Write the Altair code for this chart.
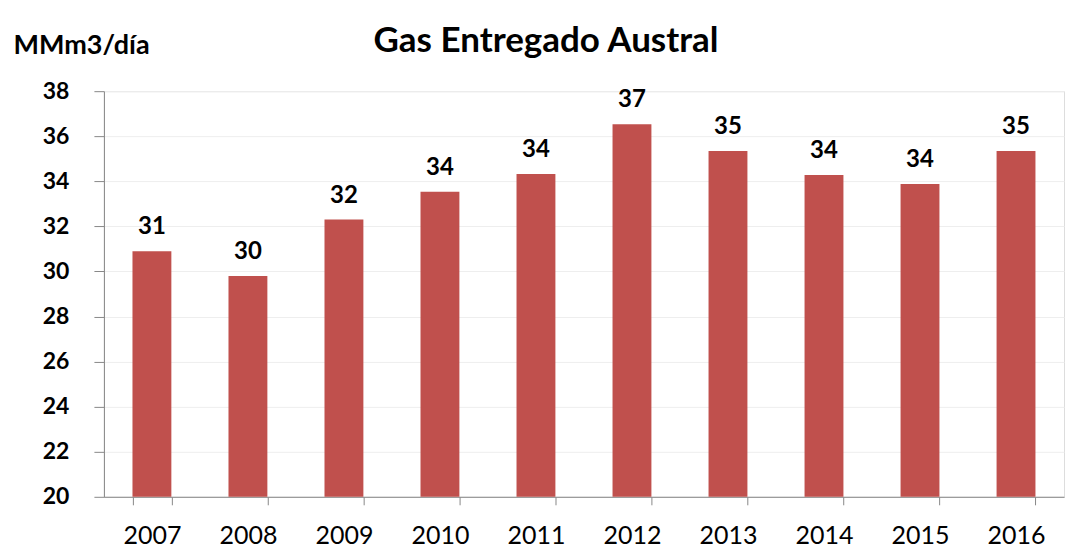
import altair as alt
import pandas as pd

years = ["2007", "2008", "2009", "2010", "2011", "2012", "2013", "2014", "2015", "2016"]
values = [30.9, 29.8, 32.3, 33.54, 34.32, 36.53, 35.34, 34.28, 33.88, 35.34]
y_ticks = [20, 22, 24, 26, 28, 30, 32, 34, 36, 38]

df = pd.DataFrame({"year": years, "value": values})

FONT = "Lato"

x_enc = alt.X(
    "year:N",
    title=None,
    scale=alt.Scale(paddingInner=0.595, paddingOuter=0.2975),
    axis=alt.Axis(
        labelAngle=0,
        tickBand="extent",
        tickSize=8,
        tickColor="#888888",
        domainColor="#888888",
        labelFont=FONT,
        labelFontSize=25,
        labelFontWeight="normal",
        labelColor="#000000",
        labelPadding=19,
        grid=False,
    ),
)

y_enc = alt.Y(
    "value:Q",
    scale=alt.Scale(domain=[20, 38], nice=False, zero=False),
    axis=alt.Axis(
        values=y_ticks,
        title="MMm3/día",
        titleAngle=0,
        titleAlign="left",
        titleBaseline="alphabetic",
        titleX=-91,
        titleY=-38,
        titleFont=FONT,
        titleFontSize=27,
        titleFontWeight="bold",
        titleColor="#000000",
        tickSize=10,
        tickColor="#888888",
        domainColor="#888888",
        labelFont=FONT,
        labelFontSize=23,
        labelFontWeight="bold",
        labelColor="#000000",
        labelPadding=25,
        grid=True,
        gridColor="#EEEEEE",
    ),
)

base = alt.Chart(df)

bars = base.mark_bar(color="#C0504D").encode(
    x=x_enc,
    y=y_enc,
    y2=alt.datum(20),
)

labels = base.mark_text(
    dy=-17,
    baseline="alphabetic",
    font=FONT,
    fontWeight="bold",
    fontSize=24,
    color="#000000",
).encode(
    x=alt.X("year:N"),
    y=alt.Y("value:Q"),
    text=alt.Text("value:Q", format=".0f"),
)

chart = (
    alt.layer(bars, labels)
    .properties(
        width=961,
        height=406,
        autosize=alt.AutoSizeParams(type="none"),
        padding={"left": 96, "top": 83, "right": 20, "bottom": 58},
        title=alt.TitleParams(
            text="Gas Entregado Austral",
            font=FONT,
            fontSize=35,
            fontWeight="bold",
            color="#000000",
            anchor="middle",
            frame="group",
            dx=-38,
            dy=56,
            baseline="alphabetic",
            offset=0,
        ),
    )
    .configure_view(stroke=None)
    .configure(background="#FFFFFF")
)

chart.save("out.html", embed_options={"renderer": "svg", "actions": False})
